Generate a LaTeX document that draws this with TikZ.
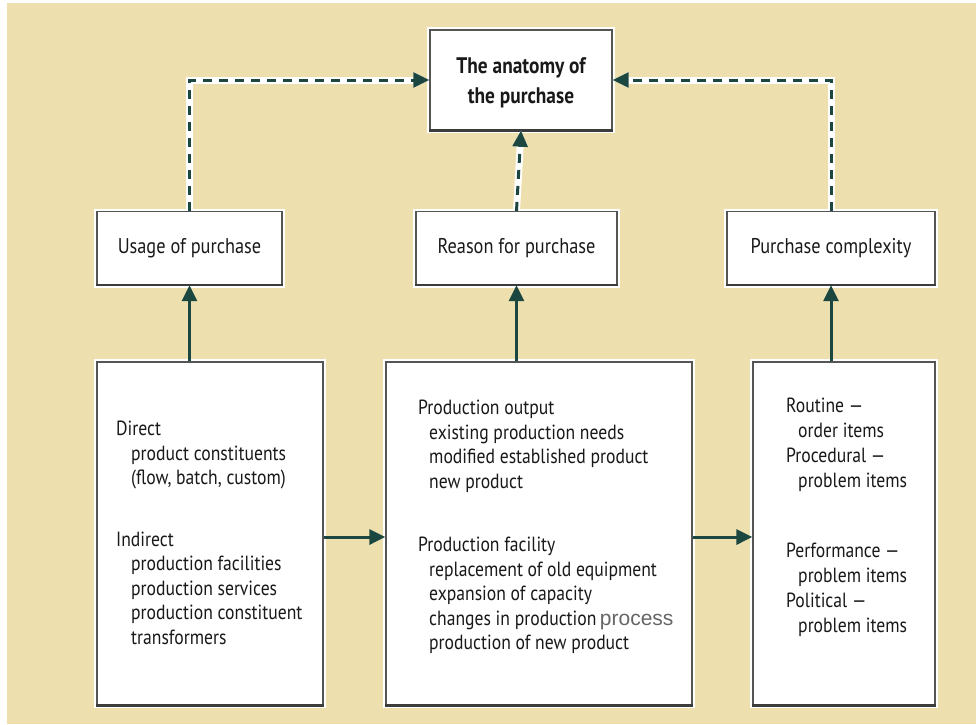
\documentclass[tikz,border=0pt]{standalone}
\usepackage{fontspec}
\setmainfont{PT Sans}[FakeStretch=0.86]
\newfontfamily\procfont{Liberation Sans}
\usetikzlibrary{arrows.meta}
\definecolor{bgbeige}{RGB}{238,224,174}
\definecolor{linecol}{RGB}{28,70,64}
\definecolor{boxline}{RGB}{85,85,85}
\definecolor{txtcol}{RGB}{25,25,25}
\begin{document}
\begin{tikzpicture}[x=1pt,y=-1pt,
  box/.style={draw=boxline, line width=1.3pt, fill=white, inner sep=0pt, text=txtcol, preaction={draw=white, line width=6pt}},
  bedge/.style={draw=boxline!70!black, line width=2.6pt},
  dashconn/.style={draw=linecol, line width=3pt, dash pattern=on 9pt off 7pt, preaction={draw=white, solid, line width=7pt}},
  solidconn/.style={draw=linecol, line width=3pt},
  tip/.style={-{Triangle[length=16pt,width=15pt]}},
  txt/.style={font=\fontsize{20.5}{24.5}\selectfont, text=txtcol, align=left, inner sep=0pt, anchor=north west},
  lbl/.style={font=\fontsize{21.3}{22}\selectfont},
]
\useasboundingbox (0,0) rectangle (976,724);
\fill[white] (0,0) rectangle (976,724);
\fill[bgbeige] (7,3) rectangle (976,724);

% boxes
\node[box, minimum width=182pt, minimum height=100pt] (top) at (521,80) {};
\node[font=\bfseries\fontsize{22.5}{30}\selectfont, text=txtcol, align=center, inner sep=0pt] (toptxt) at (521,83) {The anatomy of\\the purchase};
\node[box, lbl, minimum width=185pt, minimum height=73pt] (usage) at (189.5,248) {Usage of purchase};
\node[box, lbl, minimum width=201pt, minimum height=73pt] (reason) at (516.5,248) {Reason for purchase};
\node[box, lbl, minimum width=208pt, minimum height=73pt] (cmplx) at (831,248) {Purchase complexity};
\node[box, minimum width=226pt, minimum height=343pt] (lbox) at (210,533.5) {};
\node[box, minimum width=306pt, minimum height=343pt] (mbox) at (539,533.5) {};
\node[box, minimum width=182pt, minimum height=343pt] (rbox) at (844,533.5) {};

% heavier bottom edges
\foreach \n in {top,usage,reason,cmplx,lbox,mbox,rbox}
  \draw[bedge] (\n.south west) -- (\n.south east);

% texts
\node[txt] (ltxt) at (116,421) {Direct\\
\hspace*{15pt}product constituents\\
\hspace*{15pt}(flow, batch, custom)\\[37pt]
Indirect\\
\hspace*{15pt}production facilities\\
\hspace*{15pt}production services\\
\hspace*{15pt}production constituent\\
\hspace*{15pt}transformers};

\node[txt] (mtxt) at (418,400) {Production output\\
\hspace*{11pt}existing production needs\\
\hspace*{11pt}modified established product\\
\hspace*{11pt}new product\\[39pt]
Production facility\\
\hspace*{11pt}replacement of old equipment\\
\hspace*{11pt}expansion of capacity\\
\hspace*{11pt}changes in production\,{\procfont\fontsize{21}{24.5}\selectfont\color{black!60}process}\\
\hspace*{11pt}production of new product};

\node[txt, font=\fontsize{20.5}{25}\selectfont] (rtxt) at (786,398) {Routine ---\\
\hspace*{12pt}order items\\
Procedural ---\\
\hspace*{12pt}problem items\\[45pt]
Performance ---\\
\hspace*{12pt}problem items\\
Political ---\\
\hspace*{12pt}problem items};

% connectors
\draw[dashconn, tip] (usage.north) |- (top.west);
\draw[dashconn, tip] (reason.north) -- (top.south);
\draw[dashconn, tip] (cmplx.north) |- (top.east);
\draw[solidconn, tip] (lbox.north -| usage.south) -- (usage.south);
\draw[solidconn, tip] (mbox.north -| reason.south) -- (reason.south);
\draw[solidconn, tip] (rbox.north -| cmplx.south) -- (cmplx.south);
\draw[solidconn, tip] (lbox.east |- 0,537) -- (mbox.west |- 0,537);
\draw[solidconn, tip] (mbox.east |- 0,537) -- (rbox.west |- 0,537);
\end{tikzpicture}
\end{document}
